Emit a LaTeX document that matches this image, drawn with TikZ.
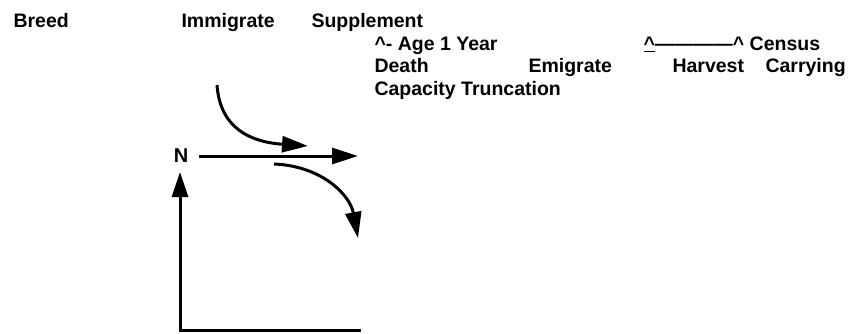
\documentclass[tikz,border=0pt]{standalone}
\usepackage{fontspec}
\setmainfont{Liberation Sans}
\usepackage{tikz}
\usetikzlibrary{arrows.meta}

\begin{document}
\begin{tikzpicture}[x=1pt, y=-1pt, line width=3pt,
    every node/.style={font=\fontsize{19.5}{22}\selectfont\bfseries, inner sep=0pt, anchor=base west},
    flow/.style={-{Triangle[length=26pt, width=16pt]}}]
    \useasboundingbox (0,0) rectangle (848,333);

    % Event labels
    \node (breed) at (12,27) {Breed};
    \node (immig-label) at (180,27) {Immigrate};
    \node (supp-label) at (310,27) {Supplement};
    \node (age-label) at (373,50) {\textasciicircum- Age 1 Year};
    \node (census-label) at (642,50) {\underline{\textasciicircum}————\textasciicircum{} Census};
    \node (death-label) at (373,72) {Death};
    \node (emig-label) at (527,72) {Emigrate};
    \node (harv-label) at (671,72) {Harvest};
    \node (carry-label) at (764,72) {Carrying};
    \node (trunc-label) at (373,95) {Capacity Truncation};

    % Axes
    \node[anchor=center, font=\fontsize{20}{22}\selectfont\bfseries] (N) at (181,156) {N};
    \coordinate (ytop) at (180,172);
    \coordinate (xend) at (361,330);
    \draw[{Triangle[length=25pt, width=16pt]}-] (ytop) |- (xend);

    % Flows
    \coordinate (in-start) at (217,85);
    \coordinate (in-end) at (308,146);
    \coordinate (flow-start) at (199,156);
    \coordinate (flow-end) at (358,156);
    \coordinate (out-start) at (274,164);
    \coordinate (out-end) at (358,238);
    \draw[flow] (in-start) .. controls (220,128) and (250,142) .. (in-end);
    \draw[flow] (flow-start) -- (flow-end);
    \draw[flow] (out-start) .. controls (322,166) and (350,195) .. (out-end);
\end{tikzpicture}
\end{document}
